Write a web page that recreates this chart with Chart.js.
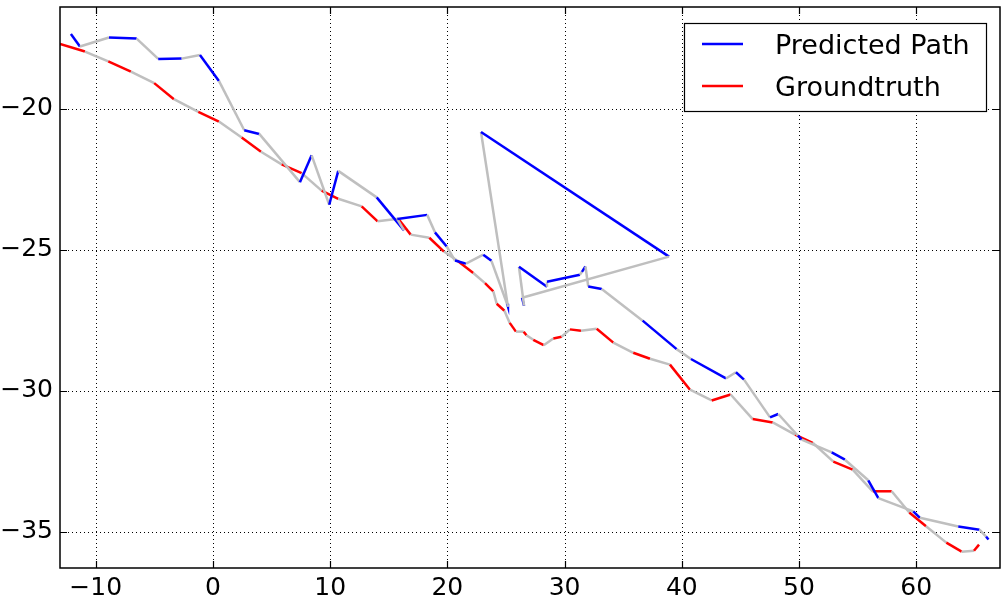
<!DOCTYPE html>
<html>
<head>
<meta charset="utf-8">
<script src="https://cdn.jsdelivr.net/npm/chart.js@4.4.0/dist/chart.umd.min.js"></script>
<style>
  html, body { margin: 0; padding: 0; background: #fff; }
</style>
</head>
<body>
<canvas id="chart" width="1005" height="600"></canvas>
<script>
// predicted path (every other segment is drawn grey)
const predX = [-12.12, -11.35, -8.87, -6.51, -4.67, -2.67, -1.11, 0.51, 2.67, 3.95,
  7.42, 8.42, 9.92, 10.69, 13.97, 16.30, 15.73, 18.28, 18.94, 19.94,
  20.65, 21.59, 23.06, 23.76, 25.09, 25.17, 22.87, 38.91, 26.37, 26.54,
  26.11, 28.50, 28.50, 31.31, 31.48, 31.78, 32.02, 33.17, 36.66, 39.56,
  40.78, 43.77, 44.62, 45.31, 47.53, 48.23, 49.91, 50.23, 52.79, 53.92,
  55.91, 56.77, 59.75, 60.32, 63.59, 65.40, 65.96, 66.17];
const predY = [-17.35, -17.79, -17.47, -17.51, -18.23, -18.22, -18.09, -19.01, -20.76, -20.89,
  -22.60, -21.65, -23.40, -22.20, -23.14, -24.31, -23.91, -23.76, -24.38, -24.88,
  -25.38, -25.49, -25.17, -25.39, -26.91, -27.02, -20.82, -25.24, -26.70, -26.98,
  -25.60, -26.31, -26.13, -25.88, -25.78, -25.59, -26.30, -26.39, -27.51, -28.52,
  -28.87, -29.56, -29.34, -29.60, -30.94, -30.82, -31.59, -31.73, -32.18, -32.44,
  -33.17, -33.80, -34.27, -34.50, -34.81, -34.92, -35.17, -35.27];

// groundtruth path
const truthX = [-13.05, -10.92, -8.93, -7.00, -5.01, -3.33, -1.25, 0.51, 2.45, 4.10,
  5.86, 7.57, 9.27, 10.69, 12.69, 14.05, 15.81, 16.87, 18.46, 19.71,
  20.86, 22.21, 23.21, 23.92, 24.21, 24.87, 25.32, 25.85, 26.51, 26.75,
  27.33, 28.22, 29.04, 29.75, 30.46, 31.40, 32.74, 34.16, 35.86, 37.29,
  38.99, 40.70, 42.55, 44.17, 46.05, 47.76, 49.66, 51.17, 52.93, 54.58,
  56.29, 57.91, 59.41, 60.84, 62.57, 63.88, 64.93, 65.36];
const truthY = [-17.70, -17.97, -18.32, -18.68, -19.09, -19.66, -20.11, -20.45, -21.02, -21.52,
  -21.97, -22.28, -22.90, -23.19, -23.46, -23.99, -23.90, -24.46, -24.57, -25.06,
  -25.39, -25.82, -26.18, -26.47, -26.91, -27.16, -27.59, -27.90, -27.90, -28.03,
  -28.19, -28.38, -28.14, -28.08, -27.82, -27.87, -27.80, -28.29, -28.65, -28.86,
  -29.07, -29.96, -30.34, -30.13, -31.00, -31.12, -31.55, -31.84, -32.51, -32.79,
  -33.56, -33.56, -34.31, -34.80, -35.38, -35.70, -35.67, -35.45];

const xTicks = [-10, 0, 10, 20, 30, 40, 50, 60];
const yTicks = [-35, -30, -25, -20];
const seriesNames = ['Predicted Path', 'Groundtruth'];

const GREY = '#bfbfbf';
const FONT = '"DejaVu Sans", sans-serif';

function minus(v) { return v < 0 ? '\u2212' + Math.abs(v) : String(v); }
function toPoints(xs, ys) { return xs.map((x, i) => ({ x: x, y: ys[i] })); }
const alternate = (ctx) => (ctx.p0DataIndex % 2 === 1 ? GREY : undefined);
function noPad(s) { s.paddingTop = 0; s.paddingBottom = 0; s.paddingLeft = 0; s.paddingRight = 0; }

// dotted grid, frame, inward ticks and the boxed legend
const axesDeco = {
  id: 'axesDeco',
  beforeDatasetsDraw(chart) {
    const { ctx, chartArea: a, scales } = chart;
    ctx.save();
    ctx.strokeStyle = '#000';
    ctx.lineWidth = 1;
    ctx.setLineDash([1, 3]);
    xTicks.forEach(v => {
      const px = Math.round(scales.x.getPixelForValue(v)) + 0.5;
      ctx.beginPath(); ctx.moveTo(px, a.top); ctx.lineTo(px, a.bottom); ctx.stroke();
    });
    yTicks.forEach(v => {
      const py = Math.round(scales.y.getPixelForValue(v)) + 0.5;
      ctx.beginPath(); ctx.moveTo(a.left, py); ctx.lineTo(a.right, py); ctx.stroke();
    });
    ctx.restore();
  },
  afterDatasetsDraw(chart) {
    const { ctx, chartArea: a, scales } = chart;
    const len = 7;
    ctx.save();
    ctx.strokeStyle = '#000';
    ctx.lineWidth = 1.2;
    xTicks.forEach(v => {
      const px = Math.round(scales.x.getPixelForValue(v)) + 0.5;
      ctx.beginPath();
      ctx.moveTo(px, a.bottom); ctx.lineTo(px, a.bottom - len);
      ctx.moveTo(px, a.top); ctx.lineTo(px, a.top + len);
      ctx.stroke();
    });
    yTicks.forEach(v => {
      const py = Math.round(scales.y.getPixelForValue(v)) + 0.5;
      ctx.beginPath();
      ctx.moveTo(a.left, py); ctx.lineTo(a.left + len, py);
      ctx.moveTo(a.right, py); ctx.lineTo(a.right - len, py);
      ctx.stroke();
    });
    ctx.lineWidth = 1.5;
    ctx.strokeRect(a.left, a.top, a.right - a.left, a.bottom - a.top);
    ctx.restore();
  },
  afterDraw(chart) {
    const { ctx, chartArea: a } = chart;
    const w = 302, h = 88;
    const x0 = a.right - 14 - w, y0 = a.top + 16;
    ctx.save();
    ctx.fillStyle = '#fff';
    ctx.fillRect(x0, y0, w, h);
    ctx.strokeStyle = '#000';
    ctx.lineWidth = 1.2;
    ctx.strokeRect(x0 + 0.5, y0 + 0.5, w, h);
    chart.data.datasets.forEach((ds, i) => {
      const ly = y0 + 21 + i * 42;
      ctx.strokeStyle = ds.borderColor;
      ctx.lineWidth = 2.5;
      ctx.beginPath(); ctx.moveTo(x0 + 18, ly); ctx.lineTo(x0 + 59, ly); ctx.stroke();
      ctx.fillStyle = '#000';
      ctx.font = '27px ' + FONT;
      ctx.textBaseline = 'alphabetic';
      ctx.fillText(ds.label, x0 + 91, ly + 10);
    });
    ctx.restore();
  }
};

new Chart(document.getElementById('chart'), {
  type: 'line',
  data: {
    datasets: [
      {
        label: seriesNames[0],
        data: toPoints(predX, predY),
        borderColor: '#0000ff',
        segment: { borderColor: alternate },
      },
      {
        label: seriesNames[1],
        data: toPoints(truthX, truthY),
        borderColor: '#ff0000',
        segment: { borderColor: alternate },
      },
    ],
  },
  options: {
    responsive: false,
    devicePixelRatio: 1,
    animation: false,
    parsing: false,
    layout: { padding: { left: 0, right: 5, top: 7, bottom: 0 } },
    elements: {
      line: { borderWidth: 2.5, tension: 0, borderCapStyle: 'butt', borderJoinStyle: 'miter' },
      point: { radius: 0, hoverRadius: 0 },
    },
    datasets: { line: { clip: 0 } },
    plugins: { legend: { display: false }, tooltip: { enabled: false } },
    scales: {
      x: {
        type: 'linear',
        min: -13.05,
        max: 67.15,
        afterBuildTicks: s => { s.ticks = xTicks.map(v => ({ value: v })); },
        afterFit: s => { s.height = 32; noPad(s); },
        grid: { display: false, drawTicks: false },
        border: { display: false },
        ticks: {
          color: '#000',
          padding: 5,
          font: { family: FONT, size: 25 },
          callback: v => minus(v),
        },
      },
      y: {
        type: 'linear',
        min: -36.28,
        max: -16.39,
        afterBuildTicks: s => { s.ticks = yTicks.map(v => ({ value: v })); },
        afterFit: s => { s.width = 60; noPad(s); },
        grid: { display: false, drawTicks: false },
        border: { display: false },
        ticks: {
          color: '#000',
          padding: 7,
          font: { family: FONT, size: 25 },
          callback: v => minus(v),
        },
      },
    },
  },
  plugins: [axesDeco],
});
</script>
</body>
</html>
